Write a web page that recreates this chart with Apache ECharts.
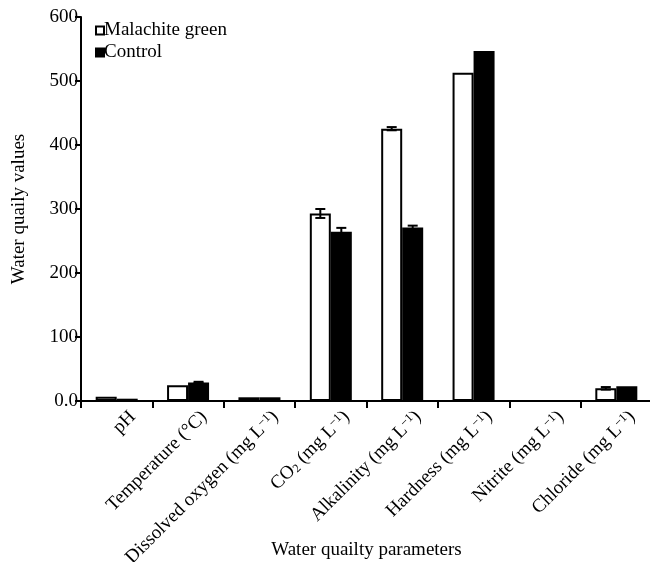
<!DOCTYPE html>
<html>
<head>
<meta charset="UTF-8">
<title>Water quality</title>
<style>
  html, body { margin: 0; padding: 0; background: #fff; }
  #container { width: 650px; height: 562px; }
</style>
</head>
<body>
<div id="container"></div>
<script src="https://cdn.jsdelivr.net/npm/echarts@6/dist/echarts.min.js"></script>
<script>
// categories, with rich-text markup for sub/superscripts
var categories = [
  '{n|pH}',
  '{n|Temperature (°C)}',
  '{n|Dissolved oxygen (mg L}{sup|−1}{n|)}',
  '{n|CO}{sub|2}{n| (mg L}{sup|−1}{n|)}',
  '{n|Alkalinity (mg L}{sup|−1}{n|)}',
  '{n|Hardness (mg L}{sup|−1}{n|)}',
  '{n|Nitrite (mg L}{sup|−1}{n|)}',
  '{n|Chloride (mg L}{sup|−1}{n|)}'
];
var seriesNames = ['Malachite green', 'Control'];
var malachite = [6.5, 24.5, 5.8, 293, 425.5, 513, 0, 19.8];
var malachiteErr = [0, 0, 0, 7, 2.5, 0, 0, 2];
var control = [3.6, 29, 5.8, 264.5, 271, 547, 0, 23];
var controlErr = [0, 1, 0, 6, 3, 0, 0, 0];
var yTicks = [0, 100, 200, 300, 400, 500, 600];

var FONT = 'Liberation Serif';
var FS = 19;
var BAR_W = 21;

var chart = echarts.init(document.getElementById('container'));

function errorSeries(values, errs, offset) {
  var data = [];
  for (var i = 0; i < values.length; i++) {
    if (errs[i] > 0) data.push([i, values[i] - errs[i], values[i] + errs[i]]);
  }
  return {
    type: 'custom',
    z: 5,
    silent: true,
    data: data,
    renderItem: function (params, api) {
      var lo = api.coord([api.value(0), api.value(1)]);
      var hi = api.coord([api.value(0), api.value(2)]);
      var x = lo[0] + offset;
      var half = 5;
      var st = { stroke: '#000', lineWidth: 2 };
      return {
        type: 'group',
        children: [
          { type: 'line', shape: { x1: x, y1: lo[1], x2: x, y2: hi[1] }, style: st },
          { type: 'line', shape: { x1: x - half, y1: hi[1], x2: x + half, y2: hi[1] }, style: st },
          { type: 'line', shape: { x1: x - half, y1: lo[1], x2: x + half, y2: lo[1] }, style: st }
        ]
      };
    }
  };
}

var option = {
  animation: false,
  backgroundColor: '#fff',
  textStyle: { fontFamily: FONT, color: '#000' },
  legend: {
    orient: 'vertical',
    left: 90,
    top: 16,
    itemWidth: 8,
    itemHeight: 8,
    itemGap: 3,
    icon: 'rect',
    textStyle: { fontFamily: FONT, fontSize: FS, color: '#000', padding: [0, 0, 0, -5] },
    data: seriesNames
  },
  grid: [
    { left: 81, top: 17, bottom: 161, width: 571, containLabel: false, outerBoundsMode: 'none' },
    // second grid, shifted right, only carries the rotated category labels
    { left: 97, top: 17, bottom: 161, width: 571, containLabel: false, outerBoundsMode: 'none' }
  ],
  xAxis: [
    {
      type: 'category',
      gridIndex: 0,
      data: categories,
      name: 'Water quailty parameters',
      nameLocation: 'middle',
      nameGap: 140,
      nameMoveOverlap: false,
      nameTextStyle: { fontFamily: FONT, fontSize: FS, color: '#000' },
      axisLine: { lineStyle: { color: '#000', width: 2 } },
      axisTick: { show: true, interval: 0, length: 7, lineStyle: { color: '#000', width: 2 } },
      axisLabel: { show: false, interval: 0 },
      splitLine: { show: false }
    },
    {
      type: 'category',
      gridIndex: 1,
      data: categories,
      axisLine: { show: false },
      axisTick: { show: false },
      axisLabel: {
        rotate: 45,
        margin: 13,
        interval: 0,
        color: '#000',
        fontFamily: FONT,
        fontSize: FS,
        rich: {
          n: { fontFamily: FONT, fontSize: FS, color: '#000' },
          sup: { fontFamily: FONT, fontSize: 12, color: '#000', verticalAlign: 'top' },
          sub: { fontFamily: FONT, fontSize: 12, color: '#000', verticalAlign: 'bottom' }
        }
      },
      splitLine: { show: false }
    }
  ],
  yAxis: [
    {
      type: 'value',
      gridIndex: 0,
      min: yTicks[0],
      max: yTicks[yTicks.length - 1],
      interval: 100,
      name: 'Water quaily values',
      nameLocation: 'middle',
      nameGap: 52,
      nameTextStyle: { fontFamily: FONT, fontSize: FS, color: '#000' },
      axisLine: { show: true, lineStyle: { color: '#000', width: 2 } },
      axisTick: { show: true, length: 6, lineStyle: { color: '#000', width: 2 } },
      axisLabel: {
        margin: 3,
        color: '#000',
        fontFamily: FONT,
        fontSize: FS,
        formatter: function (v) { return v === 0 ? '0.0' : String(v); }
      },
      splitLine: { show: false }
    },
    {
      type: 'value',
      gridIndex: 1,
      show: false
    }
  ],
  series: [
    {
      name: seriesNames[0],
      type: 'bar',
      barWidth: BAR_W,
      barGap: '0%',
      data: malachite,
      itemStyle: { color: '#fff', borderColor: '#000', borderWidth: 2 }
    },
    {
      name: seriesNames[1],
      type: 'bar',
      barWidth: BAR_W,
      barGap: '0%',
      data: control,
      itemStyle: { color: '#000', borderColor: '#000', borderWidth: 2 }
    },
    errorSeries(malachite, malachiteErr, -BAR_W / 2),
    errorSeries(control, controlErr, BAR_W / 2)
  ]
};

chart.setOption(option);
</script>
</body>
</html>
